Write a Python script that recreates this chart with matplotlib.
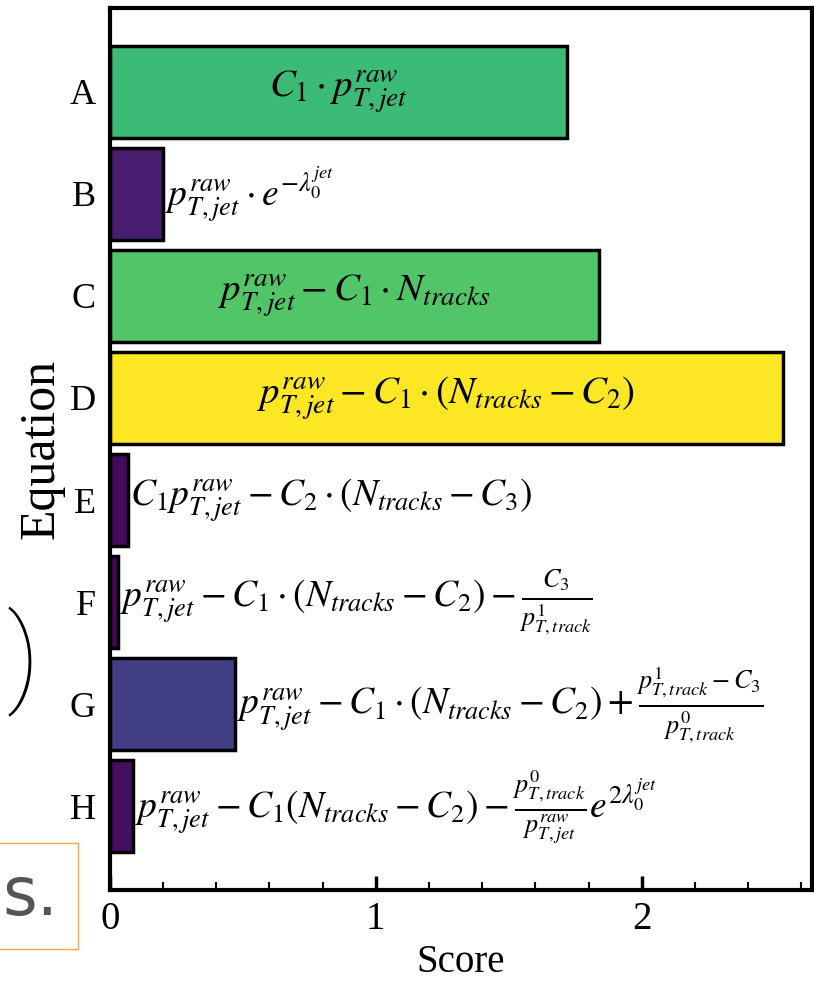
import matplotlib.pyplot as plt
import matplotlib as mpl

plt.rcParams['mathtext.fontset'] = 'stix'
plt.rcParams['font.family'] = ['Liberation Serif', 'DejaVu Serif']

labels = ["A", "B", "C", "D", "E", "F", "G", "H"]
scores = [1.72, 0.20, 1.84, 2.53, 0.068, 0.03, 0.47, 0.087]
equations = [
    r"$C_1 \cdot p_{T,jet}^{raw}$",
    r"$p_{T,jet}^{raw} \cdot e^{-\lambda_0^{jet}}$",
    r"$p_{T,jet}^{raw} - C_1 \cdot N_{tracks}$",
    r"$p_{T,jet}^{raw} - C_1 \cdot (N_{tracks} - C_2)$",
    r"$C_1 p_{T,jet}^{raw} - C_2 \cdot (N_{tracks} - C_3)$",
    r"$p_{T,jet}^{raw} - C_1 \cdot (N_{tracks} - C_2) - \frac{C_3}{p_{T,track}^{1}}$",
    r"$p_{T,jet}^{raw} - C_1 \cdot (N_{tracks} - C_2) + \frac{p_{T,track}^{1} - C_3}{p_{T,track}^{0}}$",
    r"$p_{T,jet}^{raw} - C_1 (N_{tracks} - C_2) - \frac{p_{T,track}^{0}}{p_{T,jet}^{raw}} e^{2\lambda_0^{jet}}$",
]
inside = [True, False, True, True, False, False, False, False]

fig = plt.figure(figsize=(8.14, 9.83), dpi=100)
ax = fig.add_axes([0.135, 0.0946, 0.8625, 0.8973])

cmap = mpl.colormaps['viridis']
colors = [cmap(s / max(scores)) for s in scores]
y = list(range(len(labels)))
ax.barh(y, scores, height=0.9, color=colors, edgecolor='black', linewidth=2.5)

for yi, s, eq, ins in zip(y, scores, equations, inside):
    if ins:
        ax.text(s / 2, yi, eq, ha='center', va='center', fontsize=28)
    else:
        ax.text(s + 0.008, yi, eq, ha='left', va='center', fontsize=27)

ax.set_yticks(y)
ax.set_yticklabels(labels, fontsize=26)
ax.set_ylim(7.82, -0.82)
ax.set_xlim(0, 2.64)
ax.set_xticks([0, 1, 2])
ax.set_xticks([i * 0.2 for i in range(14)], minor=True)
ax.tick_params(axis='x', which='major', direction='in', length=10, width=2.5, labelsize=28, pad=8)
ax.tick_params(axis='x', which='minor', direction='in', length=6, width=1.5)
ax.tick_params(axis='y', length=0, pad=10)
ax.set_xlabel("Score", fontsize=28, labelpad=4)
ax.set_ylabel("Equation", fontsize=36, labelpad=4)
for sp in ax.spines.values():
    sp.set_linewidth(3)

# stray overlay fragments at the left edge of the crop
fig.text(0.008, 0.327, ")", fontsize=78, family=['Roboto', 'DejaVu Sans'], fontweight='light',
         va='center', ha='left')
fig.text(0.003, 0.088, "s.", fontsize=48, family='DejaVu Sans', color='#555555', va='center', ha='left',
         bbox=dict(facecolor='white', edgecolor='#f5a742', boxstyle='square,pad=0.3'))

fig.savefig("out.png", dpi=100)
